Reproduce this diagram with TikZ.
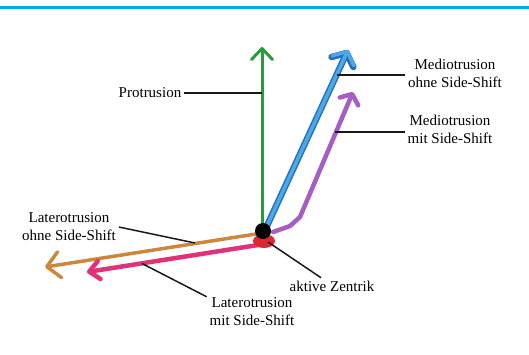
\documentclass[tikz,border=0pt]{standalone}
\usepackage{fontspec}
\setmainfont{Liberation Serif}
\usetikzlibrary{arrows.meta}
\definecolor{topblue}{RGB}{0,170,235}
\definecolor{grn}{RGB}{40,155,60}
\definecolor{blu}{RGB}{75,170,230}
\definecolor{bluedge}{RGB}{40,110,195}
\definecolor{pur}{RGB}{165,95,195}
\definecolor{org}{RGB}{205,135,60}
\definecolor{pnk}{RGB}{225,50,120}
\definecolor{redb}{RGB}{220,40,50}
\begin{document}
\begin{tikzpicture}[x=1pt,y=-1pt,
  lbl/.style={font=\fontsize{15}{18}\selectfont, align=center, inner sep=1pt, outer sep=2pt, text=black},
  leader/.style={draw=black!90, line width=1.5pt},
  mv/.style={line cap=round, line join=round},
]
\useasboundingbox (0,0) rectangle (529,354);
\fill[white] (0,0) rectangle (529,354);
\draw[topblue, line width=2.5pt] (0,7.5) -- (529,7.5);

% movement end points
\coordinate (gS) at (262,228);
\coordinate (gT) at (262,47);
\coordinate (bS) at (266,228);
\coordinate (bT) at (348,50);
\coordinate (pS) at (273,232);
\coordinate (pK1) at (290,226);
\coordinate (pK2) at (300,217);
\coordinate (pT) at (353,92);
\coordinate (oS) at (256,234);
\coordinate (oT) at (45,267);
\coordinate (kS) at (258,245);
\coordinate (kT) at (87,272);

% leader points on the movements
\coordinate (gL) at (262,93);
\coordinate (bL) at (337,75);
\coordinate (pL) at (335,132);
\coordinate (oL) at (195,243);
\coordinate (kL) at (142,263.5);
\coordinate (cL) at (268,242);

% lateral movements
\draw[mv, org, line width=3.5pt, -{Straight Barb[length=13pt,width=26pt,round]}] (oS) -- (oT);
\draw[mv, pnk, line width=4.5pt, -{Straight Barb[length=10pt,width=18pt,round]}] (kS) -- (kT);
\fill[redb] (264,241) ellipse (11 and 7);

% forward / medio movements
\draw[mv, grn, line width=3pt, -{Straight Barb[length=11pt,width=21pt,round]}] (gS) -- (gT);
\draw[mv, bluedge, line width=6.5pt, -{Straight Barb[length=10pt,width=24pt,round]}] (bS) -- (bT);
\draw[mv, blu, line width=3.5pt, -{Straight Barb[length=10pt,width=24pt,round]}] (bS) -- (bT);
\draw[mv, pur, line width=4.5pt, -{Straight Barb[length=8pt,width=20pt,round]}] (pS) -- (pK1) -- (pK2) -- (pT);
\fill[black] (263,231) circle (8);

% labels
\node[lbl] (prot) at (150,93) {Protrusion};
\node[lbl] (mo) at (455,73) {Mediotrusion\\ohne Side-Shift};
\node[lbl] (mm) at (450,129) {Mediotrusion\\mit Side-Shift};
\node[lbl] (lo) at (69,227) {Laterotrusion\\ohne Side-Shift};
\node[lbl] (lm) at (252,311.5) {Laterotrusion\\mit Side-Shift};
\node[lbl] (az) at (332,286) {aktive Zentrik};

% leaders
\draw[leader] (prot.east) -- (gL);
\draw[leader] (bL) -- (bL -| mo.west);
\draw[leader] (pL) -- (pL -| mm.west);
\draw[leader] (lo.east) -- (oL);
\draw[leader] (kL) -- (lm.162);
\draw[leader] (cL) -- (az.143);
\end{tikzpicture}
\end{document}
